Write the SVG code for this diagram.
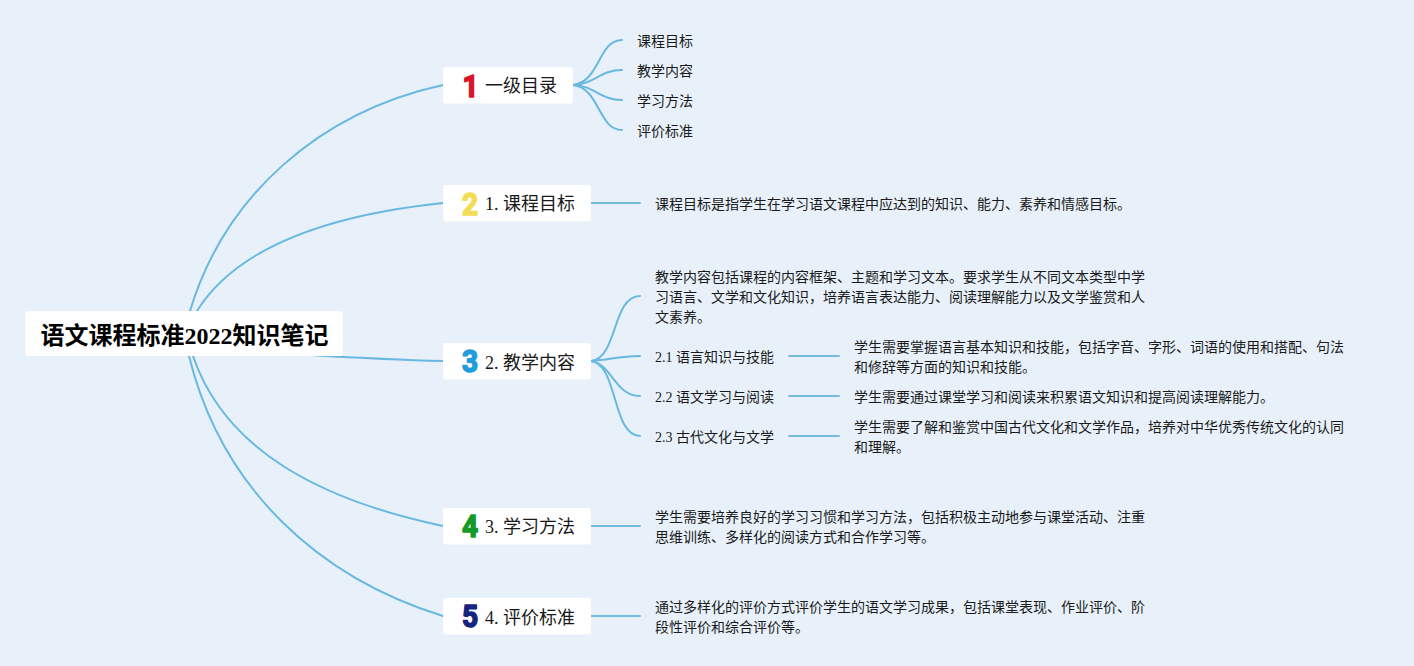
<svg xmlns="http://www.w3.org/2000/svg" width="1414" height="666" viewBox="0 0 1414 666">
<style>
text{font-family:"Liberation Serif","Noto Sans CJK SC",serif;fill:#1a1a1a}
.c{fill:none;stroke:#68b8e2;stroke-width:2;stroke-linecap:round}
.s{stroke:#74bbdc}
.box{fill:#fff}
.m{font-size:18px}
.l{font-size:14px}
.t{font-size:14px}
.n{font-family:"Roboto","Liberation Sans",sans-serif;font-size:32px;font-weight:700;text-anchor:middle;stroke-width:1.6px;stroke-linejoin:round}
</style>
<rect width="1414" height="666" fill="#e8f1fa"/>
<g id="connectors">
<path class="c" d="M190 311C225 195 320 112 443 85"/>
<path class="c" d="M197 311C235 250 320 216 443 203"/>
<path class="c" d="M310 355C360 358 400 360 443 361"/>
<path class="c" d="M193 356C225 450 320 500 443 526"/>
<path class="c" d="M189 356C222 490 320 578 443 616"/>
<path class="c" d="M573 85C600 82 598 40 622 40"/>
<path class="c" d="M573 85C595 84 600 70 622 70"/>
<path class="c" d="M573 85C595 86 600 100 622 100"/>
<path class="c" d="M573 85C600 88 598 130 622 130"/>
<path class="c s" d="M591 203H640"/>
<path class="c" d="M591 361C618 358 612 296 640 296"/>
<path class="c" d="M591 361C610 360 618 356 640 356"/>
<path class="c" d="M591 361C612 364 615 396 640 396"/>
<path class="c" d="M591 361C618 364 612 436 640 436"/>
<path class="c s" d="M789 356H839"/>
<path class="c s" d="M789 396H839"/>
<path class="c s" d="M789 436H839"/>
<path class="c s" d="M591 526H640"/>
<path class="c s" d="M591 616H640"/>
</g>
<g id="root">
<rect class="box" x="25" y="311" width="318" height="45" rx="3"/>
<text x="40.5" y="343.5" font-size="24" font-weight="700" style="fill:#000">语文课程标准2022知识笔记</text>
</g>
<g id="n1">
<rect class="box" x="443" y="67" width="130" height="36.5" rx="3"/>
<text class="n" transform="translate(470.5 96.5) scale(.88 1)" style="fill:#d9142b;stroke:#d9142b">1</text>
<text class="m" x="485" y="92">一级目录</text>
</g>
<g id="n1a"><text class="l" x="637" y="46">课程目标</text></g>
<g id="n1b"><text class="l" x="637" y="76">教学内容</text></g>
<g id="n1c"><text class="l" x="637" y="106">学习方法</text></g>
<g id="n1d"><text class="l" x="637" y="136">评价标准</text></g>
<g id="n2">
<rect class="box" x="443" y="185" width="148" height="36.5" rx="3"/>
<text class="n" transform="translate(470 214.5) scale(.88 1)" style="fill:#f5dc55;stroke:#f5dc55">2</text>
<text class="m" x="485" y="210">1. 课程目标</text>
</g>
<g id="n2a"><text class="t" x="655" y="209">课程目标是指学生在学习语文课程中应达到的知识、能力、素养和情感目标。</text></g>
<g id="n3">
<rect class="box" x="443" y="343" width="148" height="36.5" rx="3"/>
<text class="n" transform="translate(470 371.5) scale(.88 1)" style="fill:#1f9ddd;stroke:#1f9ddd">3</text>
<text class="m" x="485" y="369">2. 教学内容</text>
</g>
<g id="n3a">
<text class="t" x="655" y="282">教学内容包括课程的内容框架、主题和学习文本。要求学生从不同文本类型中学</text>
<text class="t" x="655" y="302">习语言、文学和文化知识，培养语言表达能力、阅读理解能力以及文学鉴赏和人</text>
<text class="t" x="655" y="322">文素养。</text>
</g>
<g id="n31"><text class="l" x="655" y="362">2.1 语言知识与技能</text></g>
<g id="n32"><text class="l" x="655" y="402">2.2 语文学习与阅读</text></g>
<g id="n33"><text class="l" x="655" y="442">2.3 古代文化与文学</text></g>
<g id="n31a">
<text class="t" x="854" y="352">学生需要掌握语言基本知识和技能，包括字音、字形、词语的使用和搭配、句法</text>
<text class="t" x="854" y="372">和修辞等方面的知识和技能。</text>
</g>
<g id="n32a"><text class="t" x="854" y="402">学生需要通过课堂学习和阅读来积累语文知识和提高阅读理解能力。</text></g>
<g id="n33a">
<text class="t" x="854" y="432">学生需要了解和鉴赏中国古代文化和文学作品，培养对中华优秀传统文化的认同</text>
<text class="t" x="854" y="452">和理解。</text>
</g>
<g id="n4">
<rect class="box" x="443" y="508" width="148" height="36.5" rx="3"/>
<text class="n" transform="translate(470 536.5) scale(.88 1)" style="fill:#159a27;stroke:#159a27">4</text>
<text class="m" x="485" y="533">3. 学习方法</text>
</g>
<g id="n4a">
<text class="t" x="655" y="522">学生需要培养良好的学习习惯和学习方法，包括积极主动地参与课堂活动、注重</text>
<text class="t" x="655" y="542">思维训练、多样化的阅读方式和合作学习等。</text>
</g>
<g id="n5">
<rect class="box" x="443" y="598" width="148" height="36.5" rx="3"/>
<text class="n" transform="translate(470 626.5) scale(.88 1)" style="fill:#15247e;stroke:#15247e">5</text>
<text class="m" x="485" y="624">4. 评价标准</text>
</g>
<g id="n5a">
<text class="t" x="655" y="612">通过多样化的评价方式评价学生的语文学习成果，包括课堂表现、作业评价、阶</text>
<text class="t" x="655" y="632">段性评价和综合评价等。</text>
</g>
</svg>
